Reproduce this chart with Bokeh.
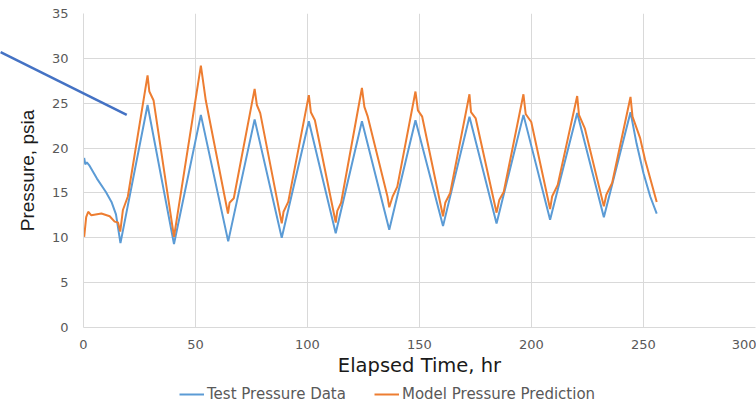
from bokeh.plotting import figure
from bokeh.layouts import column
from bokeh.models import (ColumnDataSource, Range1d, FixedTicker, Legend, LegendItem)
from bokeh.embed import file_html
from bokeh.resources import INLINE

# ---- data ----
test_t = [0.3, 0.8, 1.5, 2.5, 6.0, 10.0, 12.5, 14.5, 16.5, 28.6, 40.4, 52.4, 64.6, 76.4,
          88.5, 100.6, 112.6, 124.3, 136.5, 148.2, 160.5, 172.3, 184.4, 196.4, 208.3,
          220.4, 232.3, 244.2, 246.9, 250.0, 253.0, 255.9]
test_p = [18.9, 18.2, 18.4, 18.1, 16.6, 15.1, 14.0, 12.6, 9.4, 24.8, 9.3, 23.7, 9.6, 23.2,
          10.0, 23.0, 10.5, 23.0, 10.9, 23.1, 11.3, 23.5, 11.6, 23.7, 12.0,
          23.9, 12.3, 24.0, 20.5, 17.2, 14.6, 12.7]

model_t = [0.3, 1.2, 2.1, 3.5, 8.0, 11.7, 13.9, 15.4, 16.4, 17.6, 19.8, 28.6, 29.4, 31.3,
           40.4, 52.4, 54.6, 64.5, 65.2, 67.1, 76.4, 77.4, 78.9, 88.5, 89.3, 91.4,
           100.6, 101.5, 103.3, 112.6, 113.3, 115.0, 124.3, 125.4, 126.9, 135.7, 136.5,
           138.0, 140.1, 148.2, 149.3, 151.2, 160.5, 161.5, 163.7, 172.3, 173.0, 175.1,
           184.4, 185.6, 187.6, 196.4, 197.4, 199.9, 208.3, 209.2, 211.7, 220.4, 221.2,
           223.8, 232.3, 233.4, 236.0, 244.2, 245.1, 248.5, 250.7, 255.9]
model_p = [10.1, 12.3, 12.9, 12.5, 12.7, 12.4, 11.8, 11.7, 10.7, 13.1, 14.6, 28.1, 26.3, 25.3,
           10.1, 29.2, 25.3, 12.7, 13.9, 14.4, 26.6, 24.8, 23.9, 11.6, 12.9, 14.0,
           25.9, 24.0, 23.1, 11.7, 13.0, 13.9, 26.7, 24.6, 23.5, 14.6, 13.4,
           14.6, 15.7, 26.3, 24.2, 23.5, 12.4, 13.9, 15.0, 26.0, 24.0, 23.3,
           12.8, 14.2, 15.1, 26.0, 23.8, 22.9, 13.2, 14.6, 15.9, 25.8, 23.7,
           22.2, 13.5, 14.8, 16.1, 25.7, 23.5, 21.1, 18.7, 14.0]

x_ticks = [0, 50, 100, 150, 200, 250, 300]
y_ticks = [0, 5, 10, 15, 20, 25, 30, 35]

series_names = ["Test Pressure Data", "Model Pressure Prediction"]
x_title = "Elapsed Time, hr"
y_title = "Pressure, psia"

# callout line (a drawn shape in the original), data coordinates
callout_x = [-37.0, 19.3]
callout_y = [30.7, 23.7]

BLUE = "#5B9BD5"
ORANGE = "#ED7D31"
GRID = "#D9D9D9"
TICK = "#595959"

p = figure(width=756, height=380, output_backend="svg", toolbar_location=None,
           x_range=Range1d(0, 300), y_range=Range1d(0, 35),
           min_border_left=83, min_border_right=1, min_border_top=13, min_border_bottom=53)
p.outline_line_color = None

src_t = ColumnDataSource(dict(x=test_t, y=test_p))
src_m = ColumnDataSource(dict(x=model_t, y=model_p))
r1 = p.line("x", "y", source=src_t, line_color=BLUE, line_width=2)
r2 = p.line("x", "y", source=src_m, line_color=ORANGE, line_width=2)

# callout line, drawn on the overlay level so it can extend past the plot frame
p.line(callout_x, callout_y, line_color="#4472C4", line_width=2.5, level="overlay")

p.xaxis.ticker = FixedTicker(ticks=x_ticks)
p.yaxis.ticker = FixedTicker(ticks=y_ticks)
p.xgrid.ticker = FixedTicker(ticks=x_ticks)
p.ygrid.ticker = FixedTicker(ticks=y_ticks)
for g in (p.xgrid, p.ygrid):
    g.grid_line_color = GRID
    g.grid_line_width = 1

for ax in (p.xaxis, p.yaxis):
    ax.axis_line_color = GRID
    ax.major_tick_line_color = None
    ax.minor_tick_line_color = None
    ax.major_tick_out = 0
    ax.major_tick_in = 0
    ax.major_label_text_color = TICK
    ax.major_label_text_font = "DejaVu Sans"
    ax.major_label_text_font_size = "13px"

p.xaxis.axis_label = x_title
p.xaxis.axis_label_text_font = "DejaVu Sans"
p.xaxis.axis_label_text_font_size = "19.5px"
p.xaxis.axis_label_text_font_style = "normal"
p.xaxis.axis_label_text_color = "#1a1a1a"
p.xaxis.major_label_standoff = 12
p.xaxis.axis_label_standoff = 2

p.yaxis.axis_label = y_title
p.yaxis.axis_label_text_font = "Liberation Sans"
p.yaxis.axis_label_text_font_size = "19px"
p.yaxis.axis_label_text_font_style = "normal"
p.yaxis.axis_label_text_color = "#1a1a1a"
p.yaxis.major_label_standoff = 15
p.yaxis.axis_label_standoff = 11

# ---- legend strip below the chart (series lines kept off-screen here) ----
lg = figure(width=756, height=27, output_backend="svg", toolbar_location=None,
            x_axis_type=None, y_axis_type=None,
            x_range=Range1d(1000, 1001), y_range=Range1d(1000, 1001),
            min_border_left=0, min_border_right=0, min_border_top=0, min_border_bottom=0)
lg.outline_line_color = None
lg.xgrid.visible = False
lg.ygrid.visible = False
k1 = lg.line("x", "y", source=src_t, line_color=BLUE, line_width=2)
k2 = lg.line("x", "y", source=src_m, line_color=ORANGE, line_width=2)

legend = Legend(items=[LegendItem(label=series_names[0], renderers=[k1]),
                       LegendItem(label=series_names[1], renderers=[k2])],
                orientation="horizontal", location=(96, 3))
legend.border_line_color = None
legend.background_fill_alpha = 0
legend.label_text_font = "DejaVu Sans"
legend.label_text_font_size = "15px"
legend.label_text_color = TICK
legend.glyph_width = 25
legend.label_standoff = 3
legend.spacing = 28
legend.padding = 2
legend.margin = 0
lg.add_layout(legend)

layout = column(p, lg, spacing=0)
open("out.html", "w").write(file_html(layout, INLINE))
